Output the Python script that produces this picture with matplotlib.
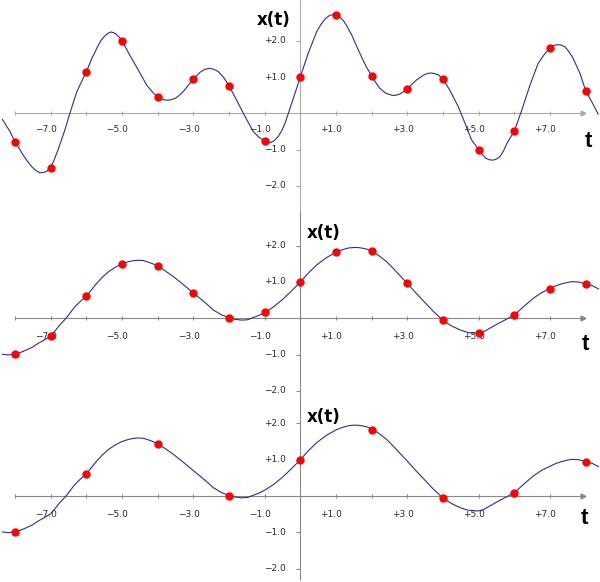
import numpy as np
import matplotlib
matplotlib.use("Agg")
import matplotlib.pyplot as plt

# ---- data ----
# top panel: continuous signal (t, x) and its samples at every integer t
top_curve_t = [-8.35, -8.25, -8.14, -8.0, -7.88, -7.77, -7.65, -7.53, -7.42, -7.30,
               -7.2, -7.11, -7.0, -6.9, -6.79, -6.6, -6.46, -6.27, -6.13, -6.0,
               -5.85, -5.66, -5.57, -5.48, -5.4, -5.31, -5.23, -5.15, -5.07, -5.0,
               -4.89, -4.78, -4.54, -4.31, -4.14, -4.0, -3.87, -3.75, -3.63, -3.51,
               -3.4, -3.28, -3.14, -3.0, -2.81, -2.68, -2.55, -2.42, -2.3, -2.15,
               -2.0, -1.79, -1.55, -1.32, -1.16, -1.0, -0.92, -0.85, -0.74, -0.62,
               -0.52, -0.43, -0.24, 0.0, 0.22, 0.46, 0.58, 0.69, 0.81, 0.93,
               1.0, 1.1, 1.21, 1.32, 1.44, 1.67, 1.84, 2.0, 2.12, 2.23,
               2.4, 2.59, 2.69, 2.79, 2.9, 3.0, 3.13, 3.26, 3.45, 3.57,
               3.67, 3.77, 3.87, 4.0, 4.19, 4.43, 4.62, 4.8, 5.0, 5.1,
               5.2, 5.3, 5.41, 5.5, 5.6, 5.7, 5.79, 6.0, 6.21, 6.44,
               6.67, 6.84, 7.0, 7.1, 7.21, 7.31, 7.42, 7.53, 7.65, 7.84,
               8.0, 8.17, 8.35]
top_curve_x = [-0.17, -0.33, -0.5, -0.78, -0.97, -1.15, -1.32, -1.47, -1.57, -1.64,
               -1.63, -1.6, -1.5, -1.28, -1.0, -0.46, 0.0, 0.58, 0.88, 1.14,
               1.5, 1.88, 2.03, 2.13, 2.2, 2.24, 2.22, 2.17, 2.09, 1.99,
               1.8, 1.6, 1.19, 0.78, 0.58, 0.44, 0.39, 0.36, 0.37, 0.41,
               0.49, 0.6, 0.77, 0.94, 1.13, 1.21, 1.24, 1.21, 1.15, 0.99,
               0.76, 0.37, -0.09, -0.5, -0.66, -0.76, -0.8, -0.81, -0.76, -0.64,
               -0.48, -0.28, 0.28, 1.0, 1.65, 2.25, 2.45, 2.59, 2.69, 2.73,
               2.71, 2.66, 2.55, 2.38, 2.16, 1.65, 1.3, 1.03, 0.84, 0.69,
               0.55, 0.49, 0.5, 0.53, 0.6, 0.68, 0.8, 0.92, 1.05, 1.1,
               1.11, 1.09, 1.06, 0.94, 0.64, 0.18, -0.28, -0.73, -1.0, -1.13,
               -1.24, -1.28, -1.29, -1.26, -1.19, -1.03, -0.83, -0.49, 0.09, 0.78,
               1.38, 1.62, 1.81, 1.87, 1.89, 1.88, 1.83, 1.7, 1.51, 1.1,
               0.62, 0.32, -0.02]
top_samp_t = [-8, -7, -6, -5, -4, -3, -2, -1, 0, 1, 2, 3, 4, 5, 6, 7, 8]
top_samp_x = [-0.78, -1.5, 1.14, 1.99, 0.44, 0.94, 0.76, -0.76, 1.0, 2.71,
              1.03, 0.68, 0.94, -1.0, -0.49, 1.81, 0.62]

# middle / bottom panels: the same smooth signal
low_curve_t = [-8.35, -8.19, -8.0, -7.84, -7.67, -7.5, -7.35, -7.18, -7.0, -6.87,
               -6.74, -6.55, -6.32, -6.16, -6.0, -5.85, -5.71, -5.55, -5.38, -5.2,
               -5.0, -4.88, -4.77, -4.65, -4.54, -4.4, -4.27, -4.13, -4.0, -3.78,
               -3.56, -3.28, -3.0, -2.81, -2.62, -2.44, -2.2, -2.0, -1.82, -1.64,
               -1.48, -1.32, -1.16, -1.0, -0.76, -0.52, -0.26, 0.0, 0.23, 0.46,
               0.73, 1.0, 1.13, 1.25, 1.37, 1.49, 1.62, 1.75, 1.88, 2.0,
               2.21, 2.42, 2.6, 2.79, 3.0, 3.22, 3.45, 3.72, 4.0, 4.24,
               4.48, 4.6, 4.7, 4.8, 4.9, 5.0, 5.12, 5.25, 5.5, 5.75,
               6.0, 6.27, 6.53, 6.77, 7.0, 7.15, 7.3, 7.45, 7.61, 7.8,
               8.0, 8.18, 8.36]
low_curve_x = [-0.99, -1.01, -0.99, -0.94, -0.87, -0.79, -0.69, -0.6, -0.49, -0.34,
               -0.18, 0.02, 0.32, 0.47, 0.61, 0.79, 0.96, 1.13, 1.28, 1.4,
               1.5, 1.54, 1.57, 1.59, 1.6, 1.59, 1.55, 1.5, 1.44, 1.3,
               1.15, 0.93, 0.7, 0.55, 0.39, 0.23, 0.09, 0.02, -0.03, -0.05,
               -0.04, 0.02, 0.08, 0.16, 0.31, 0.5, 0.74, 1.0, 1.25, 1.47,
               1.67, 1.82, 1.87, 1.91, 1.94, 1.95, 1.95, 1.93, 1.9, 1.85,
               1.72, 1.56, 1.38, 1.18, 0.96, 0.72, 0.48, 0.2, -0.06, -0.21,
               -0.32, -0.36, -0.39, -0.4, -0.41, -0.41, -0.38, -0.31, -0.17, -0.04,
               0.09, 0.33, 0.55, 0.71, 0.82, 0.89, 0.94, 0.98, 1.01, 1.0,
               0.95, 0.9, 0.81]
mid_samp_t = [-8, -7, -6, -5, -4, -3, -2, -1, 0, 1, 2, 3, 4, 5, 6, 7, 8]
mid_samp_x = [-0.99, -0.49, 0.61, 1.5, 1.44, 0.7, 0.02, 0.16, 1.0, 1.82,
              1.85, 0.96, -0.06, -0.41, 0.09, 0.82, 0.95]
bot_samp_t = [-8, -6, -4, -2, 0, 2, 4, 6, 8]
bot_samp_x = [-1.0, 0.61, 1.43, 0.01, 0.99, 1.83, -0.06, 0.07, 0.94]

x_ticks = list(range(-8, 8))
x_labels_at = [-7, -5, -3, -1, 1, 3, 5, 7]
y_labels_at = [2, 1, -1, -2]

LINE = "#2e2e8f"
DOT = "#ff0000"

fig = plt.figure(figsize=(6, 5.82), dpi=100)
H = 582.0

panels = [
    dict(r0=0, r1=212, axis=113.3, yfrom=3.12, yto=-2.9, ycol="#aaaaaa",
         curve=(top_curve_t, top_curve_x), samp=(top_samp_t, top_samp_x),
         xt=(-0.28, 2.58, "right"), tl=(8.08, -0.79), xlab_y=-0.46),
    dict(r0=212, r1=398, axis=318.3, yfrom=2.93, yto=-2.2, ycol="#888888",
         curve=(low_curve_t, low_curve_x), samp=(mid_samp_t, mid_samp_x),
         xt=(0.19, 2.35, "left"), tl=(7.98, -0.71), xlab_y=-0.49),
    dict(r0=398, r1=582, axis=496.0, yfrom=2.70, yto=-2.31, ycol="#888888",
         curve=(low_curve_t, low_curve_x), samp=(bot_samp_t, bot_samp_x),
         xt=(0.19, 2.19, "left"), tl=(7.97, -0.62), xlab_y=-0.51),
]

unit_y = 36.3
for p in panels:
    ax = fig.add_axes([0, 1 - p["r1"] / H, 1, (p["r1"] - p["r0"]) / H])
    ax.axis("off")
    ax.set_xlim(-8.419, 8.402)
    ax.set_ylim(-(p["r1"] - p["axis"]) / unit_y, (p["axis"] - p["r0"]) / unit_y)

    # axes
    ax.hlines(0, -8.0, 7.93, color=p["ycol"], lw=0.8, zorder=1)
    ax.plot([7.93], [0], marker=">", ms=3.5, color=p["ycol"], zorder=1)
    ax.vlines(0, p["yto"], p["yfrom"], color=p["ycol"], lw=0.8, zorder=1, clip_on=False)
    ax.plot(x_ticks, np.zeros(len(x_ticks)), ls="none", marker="|", ms=3,
            mew=0.8, color=p["ycol"], zorder=1)
    ax.plot(np.zeros(len(y_labels_at)), y_labels_at, ls="none", marker=0, ms=3,
            mew=0.8, color=p["ycol"], zorder=1)

    for v in x_labels_at:
        ax.text(v - 0.13, p["xlab_y"], ("+%.1f" % v) if v > 0 else ("\u2212%.1f" % -v),
                ha="center", va="center", fontsize=6.5, family="DejaVu Sans", color="#2a2a2a")
    for v in y_labels_at:
        ax.text(-0.40, v, ("+%.1f" % v) if v > 0 else ("\u2212%.1f" % -v),
                ha="right", va="center", fontsize=6.5, family="DejaVu Sans", color="#2a2a2a")

    ax.text(p["xt"][0], p["xt"][1], "x(t)", ha=p["xt"][2], va="center",
            fontsize=12, fontweight="bold", family="DejaVu Sans", color="black")
    ax.text(p["tl"][0], p["tl"][1], "t", ha="center", va="center",
            fontsize=16, fontweight="bold", family="Liberation Sans", color="black")

    ct, cx = p["curve"]
    ax.plot(ct, cx, color=LINE, lw=0.8, zorder=2, clip_on=False)
    st, sx = p["samp"]
    ax.plot(st, sx, ls="none", marker="o", ms=5, color=DOT, mec=DOT, zorder=3, clip_on=False)

fig.savefig("out.png", dpi=100)
